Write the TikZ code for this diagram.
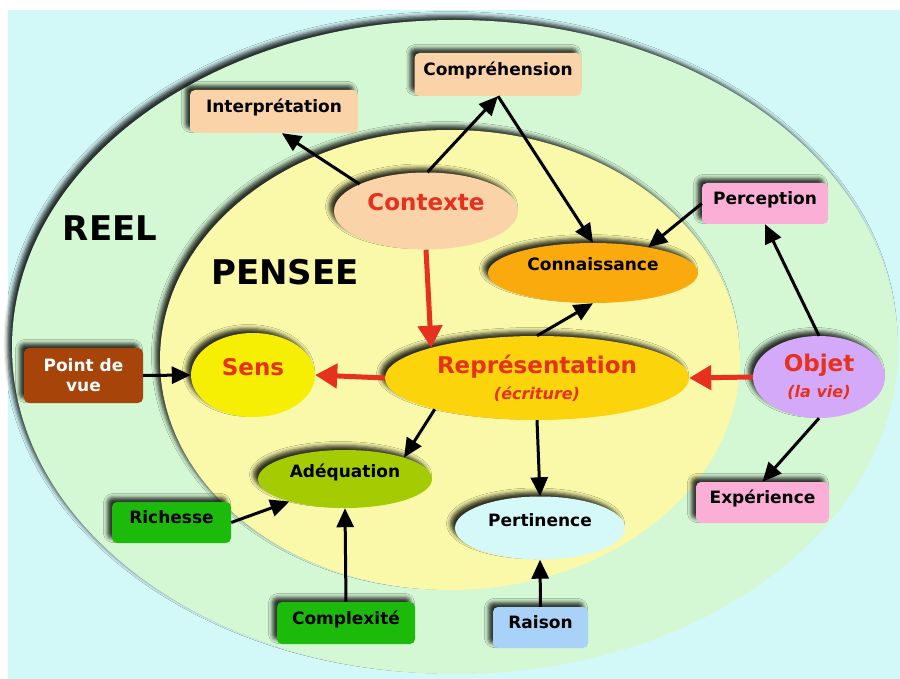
\documentclass[tikz,border=0pt]{standalone}
\usepackage{fontspec}
\setmainfont{DejaVu Sans}
\usetikzlibrary{shapes.geometric, arrows.meta, shadows.blur}
\definecolor{fond}{HTML}{D3F8F8}
\definecolor{reel}{HTML}{D4F7D4}
\definecolor{pensee}{HTML}{F9F9A9}
\definecolor{peche}{HTML}{FAD4A8}
\definecolor{orangec}{HTML}{FBAA0D}
\definecolor{rose}{HTML}{FBAFD7}
\definecolor{jaune}{HTML}{F6EE03}
\definecolor{dore}{HTML}{FBD40C}
\definecolor{lilas}{HTML}{D4A9F9}
\definecolor{anis}{HTML}{A5CC02}
\definecolor{vert}{HTML}{1CBA0A}
\definecolor{ciel}{HTML}{D5F8F8}
\definecolor{bleu}{HTML}{A9D2F8}
\definecolor{brun}{HTML}{A6440A}
\definecolor{rouge}{HTML}{E5311D}
\newcommand\petit{\fontsize{17}{20}\selectfont\bfseries}
\newcommand\grand{\fontsize{23}{26}\selectfont\bfseries}
\newcommand\titre{\fontsize{34}{38}\selectfont\bfseries}
\newcommand\sous{\fontsize{16}{19}\selectfont\bfseries\itshape}
\tikzset{
  ombre/.style={blur shadow={shadow xshift=-4.5pt, shadow yshift=4.5pt, shadow blur radius=4pt, shadow opacity=80}},
  forme/.style={inner sep=0pt, ombre},
  boite/.style={forme, rectangle, rounded corners=5pt, font=\petit, text height=12pt, text depth=10pt},
  bulle/.style={forme, ellipse, font=\petit, text height=12pt, text depth=16pt},
  grosse/.style={forme, ellipse, font=\grand, text=rouge, text height=17pt, text depth=17pt},
  double/.style={forme, ellipse, font=\grand, text=rouge, align=center},
  fleche/.style={line width=3pt, draw=black, -{Triangle[length=19pt,width=17pt,fill=black]}},
  flecherouge/.style={line width=5pt, draw=rouge, -{Triangle[length=22pt,width=24pt,fill=rouge]}}
}
\begin{document}
\begin{tikzpicture}[x=1pt, y=-1pt]
  \useasboundingbox (0,0) rectangle (900,679);
  \fill[fond] (8,10) rectangle (900,679);

  % les deux domaines
  \fill[reel, ombre] (455,347) ellipse [x radius=443, y radius=327];
  \fill[pensee, ombre] (450,360) ellipse [x radius=290, y radius=230];
  \node[font=\titre] (reeltxt) at (110,228) {REEL};
  \node[font=\titre] (penseetxt) at (285,272) {PENSEE};

  % boites
  \node[boite, fill=peche, minimum width=167pt, minimum height=43pt] (compr) at (498,74.5) {Compréhension};
  \node[boite, fill=peche, minimum width=168pt, minimum height=43pt] (interp) at (274,111.5) {Interprétation};
  \node[boite, fill=rose, minimum width=126pt, minimum height=41pt] (percep) at (765,203.5) {Perception};
  \node[boite, fill=brun, text=white, minimum width=119pt, minimum height=55pt, text height=, text depth=, align=center] (pdv) at (83.5,375.5) {Point de\\vue};
  \node[boite, fill=vert, minimum width=119pt, minimum height=41pt] (richesse) at (171.5,522.5) {Richesse};
  \node[boite, fill=vert, minimum width=138pt, minimum height=42pt] (complexite) at (346,623) {Complexité};
  \node[boite, fill=bleu, minimum width=95pt, minimum height=41pt] (raison) at (540.5,627.5) {Raison};
  \node[boite, fill=rose, minimum width=133pt, minimum height=41pt] (exp) at (762.5,502.5) {Expérience};

  % bulles
  \node[grosse, fill=peche, minimum width=184pt, minimum height=77pt] (contexte) at (426,211) {Contexte};
  \node[bulle, fill=orangec, minimum width=210pt, minimum height=60pt] (conn) at (593,273) {Connaissance};
  \node[grosse, fill=jaune, minimum width=124pt, minimum height=84pt] (sens) at (253,375) {Sens};
  \node[double, fill=dore, minimum width=304pt, minimum height=84pt] (repr) at (537,378) {Représentation\\{\sous (écriture)}};
  \node[double, fill=lilas, minimum width=132pt, minimum height=82pt] (objet) at (819,377) {Objet\\{\sous (la vie)}};
  \node[bulle, fill=anis, minimum width=174pt, minimum height=58pt] (adeq) at (345,479) {Adéquation};
  \node[bulle, fill=ciel, minimum width=170pt, minimum height=63pt] (pert) at (540,528) {Pertinence};

  % liens
  \draw[fleche] (contexte.158) -- (interp.-70);
  \draw[fleche] (contexte.88) -- (compr.south);
  \draw[fleche] (compr.south) -- (conn.north);
  \draw[fleche] (percep.west) -- (conn.25);
  \draw[fleche] (repr.north) -- (conn.south);
  \draw[fleche] (objet.north) -- (percep.south);
  \draw[flecherouge] (contexte.south) -- (repr.164);
  \draw[flecherouge] (repr.west) -- (sens.east);
  \draw[flecherouge] (objet.west) -- (repr.east);
  \draw[fleche] (pdv.east) -- (sens.west);
  \draw[fleche] (repr.-163) -- (adeq.20);
  \draw[fleche] (repr.south) -- (pert.north);
  \draw[fleche] (richesse.east) -- (adeq.-158);
  \draw[fleche] (complexite.north) -- (adeq.south);
  \draw[fleche] (raison.north) -- (pert.south);
  \draw[fleche] (objet.south) -- (exp.north);
\end{tikzpicture}
\end{document}
